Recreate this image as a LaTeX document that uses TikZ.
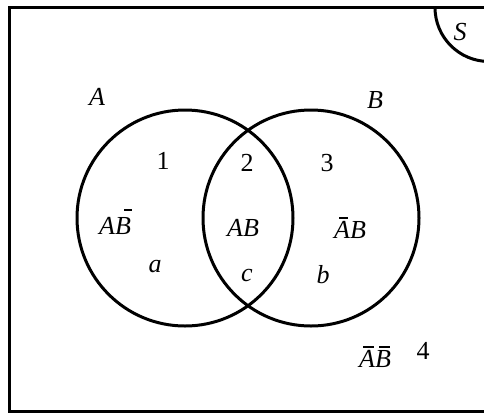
\documentclass[tikz,border=0pt]{standalone}
\usepackage{fontspec}
\setmainfont{Liberation Serif}
% letter with a bar drawn above it: #1 letter, #2 shift, #3 raise, #4 bar length
\newcommand\barred[4]{\makebox[0pt][l]{\hspace*{#2}\rule[#3]{#4}{1.5pt}}#1}
\begin{document}
\begin{tikzpicture}[x=1pt,y=-1pt,
    lbl/.style={inner sep=0pt, font=\fontsize{26}{30}\selectfont\itshape},
    num/.style={inner sep=0pt, font=\fontsize{26}{30}\selectfont},
    setcircle/.style={circle, draw, line width=3pt, inner sep=0pt, minimum size=216pt}]
  \clip (0,0) rectangle (484,413);
  % sample space frame (open to the right)
  \draw[line width=3pt] (490,7.5) -- (9.5,7.5) -- (9.5,411.5) -- (490,411.5);
  % corner marker of the sample space
  \coordinate (sStart) at (435,7.5);
  \draw[line width=3pt] (sStart) arc[start angle=180, end angle=90, radius=54];
  \node[lbl] (S) at (460,32) {S};
  % the two events
  \node[setcircle] (cA) at (185,218) {};
  \node[setcircle] (cB) at (311,218) {};
  \node[lbl] (labA) at (97,97) {A};
  \node[lbl] (labB) at (375,100) {B};
  % region numbers
  \node[num] (n1) at (163,161) {1};
  \node[num] (n2) at (247,163) {2};
  \node[num] (n3) at (327,163) {3};
  \node[num] (n4) at (423,351) {4};
  % region events
  \node[lbl] (rA) at (115,222) {A\barred{B}{9pt}{24pt}{8pt}};
  \node[lbl] (rAB) at (243,228) {AB};
  \node[lbl] (rB) at (350,228) {\barred{A}{5pt}{20pt}{9pt}B};
  \node[lbl] (rN) at (375,357) {\barred{A}{4pt}{20pt}{11pt}\barred{B}{4pt}{20pt}{11pt}};
  % region counts
  \node[lbl] (ca) at (155,267) {a};
  \node[lbl] (cc) at (247,275) {c};
  \node[lbl] (cb) at (323,275) {b};
\end{tikzpicture}
\end{document}
